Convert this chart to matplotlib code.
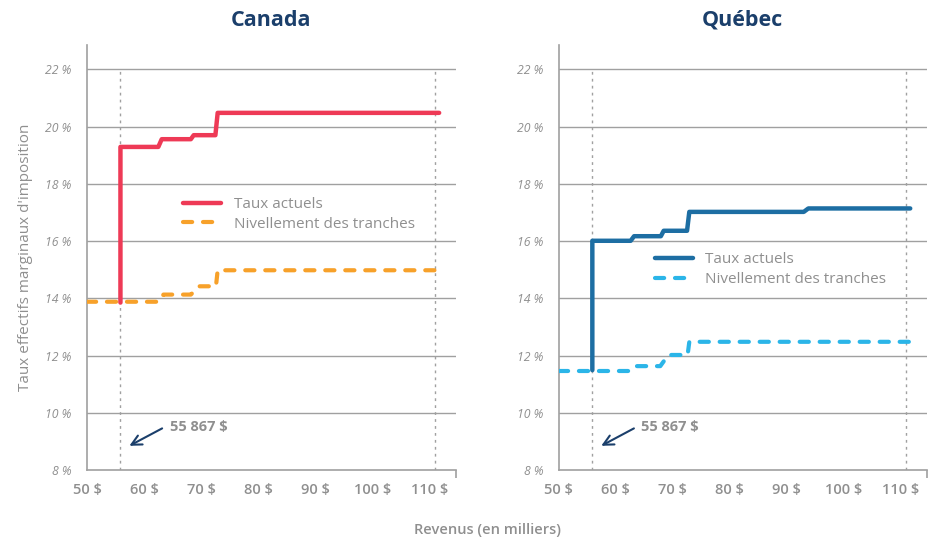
import matplotlib
matplotlib.use("Agg")
import matplotlib.pyplot as plt

plt.rcParams['font.family'] = ['Open Sans', 'DejaVu Sans']

# revenu en milliers de $ / taux en %
can_x_actuel = [55.867, 55.867, 62.5, 63.1, 68.2, 68.7, 72.5, 72.9, 111.7]
can_y_actuel = [13.85, 19.29, 19.29, 19.56, 19.56, 19.70, 19.70, 20.48, 20.48]
can_x_niv = [50, 62.6, 63.4, 68.2, 69.7, 72.6, 72.9, 111.7]
can_y_niv = [13.88, 13.88, 14.13, 14.13, 14.42, 14.42, 14.98, 14.98]

qc_x_actuel = [55.867, 55.867, 62.6, 63.2, 67.9, 68.4, 72.5, 72.9, 93.0, 93.8, 111.7]
qc_y_actuel = [11.49, 16.01, 16.01, 16.17, 16.17, 16.36, 16.36, 17.02, 17.02, 17.14, 17.14]
qc_x_niv = [50, 62.4, 63.3, 67.8, 69.2, 72.6, 72.9, 111.7]
qc_y_niv = [11.46, 11.46, 11.63, 11.63, 12.02, 12.02, 12.48, 12.48]

seuils = [55.867, 111.0]
xticks = [50, 60, 70, 80, 90, 100, 110]
yticks = [8, 10, 12, 14, 16, 18, 20, 22]

gris = '#a0a0a0'
texte = '#8f8f8f'
marine = '#1b3f6b'

fig = plt.figure(figsize=(9.3, 5.4), dpi=100)
ax1 = fig.add_axes([0.0935, 0.1296, 0.3965, 0.787])
ax2 = fig.add_axes([0.601, 0.1296, 0.3955, 0.787])


def panneau(ax, titre, xa, ya, xn, yn, c1, c2, leg_y):
    ax.set_xlim(50, 114.6)
    ax.set_ylim(8, 22.85)
    for y in yticks[1:]:
        ax.axhline(y, color=gris, lw=1, zorder=1)
    ax.vlines(seuils, 8, 22, colors=gris, linestyles=(0, (2, 3)), lw=1, zorder=1)
    ax.plot(xn, yn, color=c2, lw=3, ls=(0, (2.2, 2.6)), dash_capstyle='round',
            solid_joinstyle='round', label='Nivellement des tranches', zorder=3)
    ax.plot(xa, ya, color=c1, lw=3.2, solid_capstyle='round', solid_joinstyle='round',
            label='Taux actuels', zorder=4)
    h, l = ax.get_legend_handles_labels()
    leg = ax.legend(h[::-1], l[::-1], loc='upper left', bbox_to_anchor=(0.24, leg_y),
                    frameon=False, fontsize=11, handlelength=2.5, labelspacing=0.3,
                    handletextpad=0.8, borderpad=0)
    for t in leg.get_texts():
        t.set_color(texte)
    for s in ['top', 'right']:
        ax.spines[s].set_visible(False)
    for s in ['left', 'bottom']:
        ax.spines[s].set_color(gris)
        ax.spines[s].set_linewidth(1.2)
    ax.set_xticks(xticks)
    ax.set_xticklabels([f'{v} $' for v in xticks], fontsize=10.5, color=texte, fontweight='semibold')
    ax.set_xticks([114.6], minor=True)
    ax.tick_params(axis='x', which='minor', length=6, color=gris, width=1.2)
    ax.set_yticks(yticks)
    ax.set_yticklabels([f'{v} %' for v in yticks], fontsize=8.8, color=texte, fontstyle='italic')
    ax.tick_params(axis='both', which='major', length=0, pad=9)
    ax.tick_params(axis='y', pad=11)
    ax.set_title(titre, fontsize=15.5, fontweight='bold', color=marine, pad=14)
    ax.annotate('', xy=(57.0, 8.8), xytext=(63.6, 9.5),
                arrowprops=dict(arrowstyle='->', color=marine, lw=1.5, mutation_scale=18))
    ax.text(64.5, 9.5, '55 867 $', fontsize=10.5, fontweight='bold', color=texte, va='center')


panneau(ax1, 'Canada', can_x_actuel, can_y_actuel, can_x_niv, can_y_niv,
        '#ee3a56', '#f7a12a', 0.66)
panneau(ax2, 'Québec', qc_x_actuel, qc_y_actuel, qc_x_niv, qc_y_niv,
        '#1d6ea3', '#2bb5e8', 0.53)

ax1.set_ylabel("Taux effectifs marginaux d'imposition", fontsize=11, color=texte, labelpad=9)
fig.text(0.524, 0.012, 'Revenus (en milliers)', fontsize=10.5, color=texte,
         fontweight='semibold', ha='center')

fig.savefig('out.png', dpi=100)
